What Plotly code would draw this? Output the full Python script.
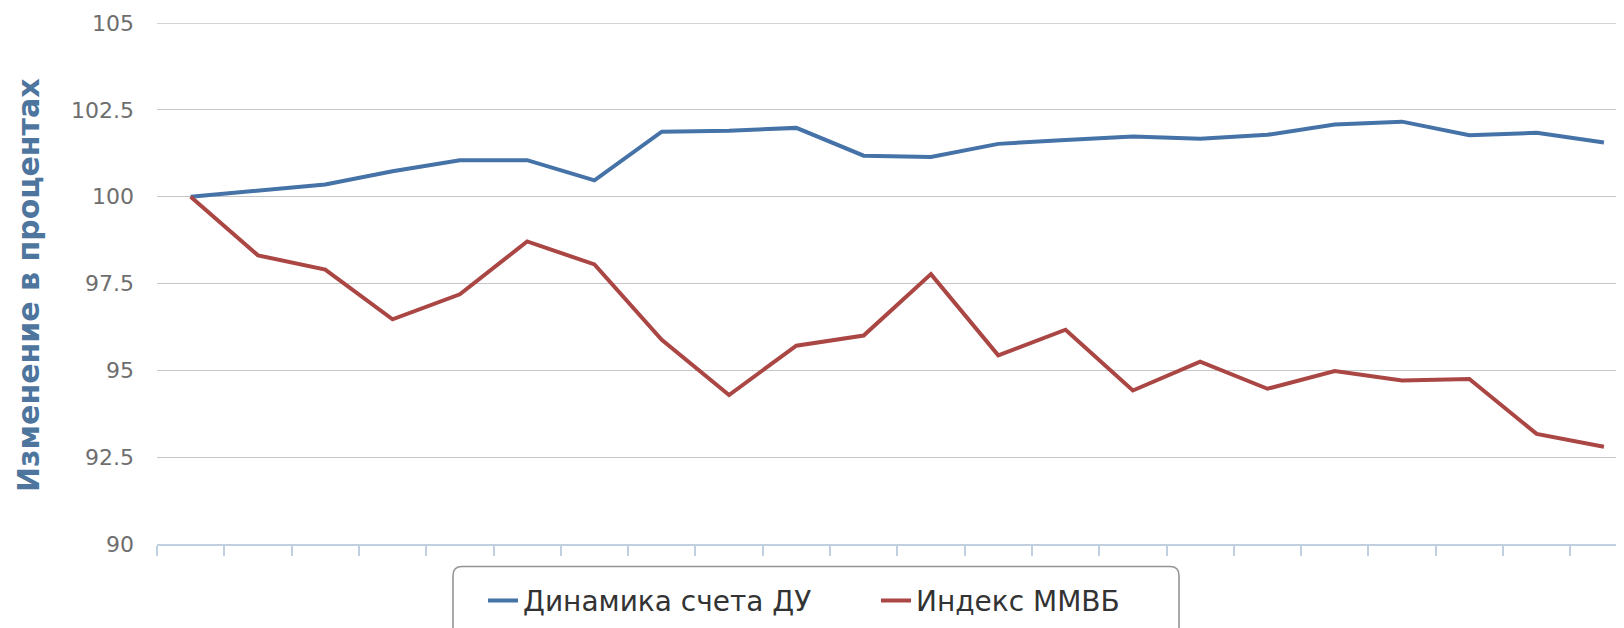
import plotly.graph_objects as go

# ---- data ----
periods = list(range(1, 23))  # 22 reporting periods (labels not shown on the chart)
du_account = [100.0, 100.18, 100.35, 100.73, 101.05, 101.05, 100.47, 101.87, 101.90, 101.98, 101.18,
              101.14, 101.52, 101.63, 101.73, 101.67, 101.78, 102.08, 102.16, 101.77, 101.84, 101.56]
micex_index = [100.0, 98.31, 97.90, 96.47, 97.19, 98.71, 98.05, 95.88, 94.29, 95.71, 96.00,
               97.77, 95.43, 96.17, 94.42, 95.25, 94.47, 94.98, 94.71, 94.75, 93.17, 92.80]
series_names = ["Динамика счета ДУ", "Индекс ММВБ"]
y_ticks = [90, 92.5, 95, 97.5, 100, 102.5, 105]
y_tick_text = ["90", "92.5", "95", "97.5", "100", "102.5", "105"]
y_title = "Изменение в процентах"

# the page body has an 8px margin, so the figure is placed at (8, 8) in the window
OFF = 8
W, H = 1624 - OFF, 628 - OFF
ML, MR, MT, MB = 157 - OFF, 0, 23 - OFF, 84
PW, PH = W - ML - MR, H - MT - MB

fig = go.Figure()
fig.add_trace(go.Scatter(x=periods, y=du_account, name=series_names[0], mode="lines",
                         line=dict(color="#4572A7", width=4)))
fig.add_trace(go.Scatter(x=periods, y=micex_index, name=series_names[1], mode="lines",
                         line=dict(color="#AA4643", width=4)))

boundaries = [p - 0.5 for p in periods] + [periods[-1] + 0.5]
x_range = [periods[0] - 0.5, periods[0] - 0.5 + PW / 67.3]

fig.update_xaxes(range=x_range,
                 tickvals=boundaries, showticklabels=False,
                 ticks="outside", ticklen=10, tickwidth=1.5, tickcolor="#C0D0E0",
                 showline=True, linecolor="#C0D0E0", linewidth=2,
                 showgrid=False, zeroline=False, fixedrange=True)
fig.update_yaxes(range=[y_ticks[0], y_ticks[-1]], tickvals=y_ticks, ticktext=y_tick_text,
                 showgrid=True, gridcolor="#C6C6C6", gridwidth=1.3,
                 zeroline=False, showline=False, ticks="",
                 ticklabelstandoff=22,
                 tickfont=dict(family="DejaVu Sans", size=22, color="#6E6E6E"),
                 fixedrange=True)

# top gridline (plotly omits the grid line lying on the upper range edge)
fig.add_shape(type="line", xref="paper", yref="y", x0=0, x1=1, y0=y_ticks[-1], y1=y_ticks[-1],
              line=dict(color="#C6C6C6", width=1.3), layer="below")


def px_x(px):  # window px -> paper
    return (px - OFF - ML) / PW


def px_y(py):
    return (MT + PH - (py - OFF)) / PH


# y-axis title as rotated text
fig.add_annotation(text=y_title, textangle=-90, xref="paper", yref="paper",
                   x=px_x(28), y=px_y(285), xanchor="center", yanchor="middle",
                   showarrow=False,
                   font=dict(family="DejaVu Sans", size=30, color="#4D759E", weight="bold"))

# rounded legend frame
L, R, T, B = 453, 1179, 566.5, 670
r = 9
path = (f"M {px_x(L + r)} {px_y(T)} L {px_x(R - r)} {px_y(T)} "
        f"Q {px_x(R)} {px_y(T)} {px_x(R)} {px_y(T + r)} "
        f"L {px_x(R)} {px_y(B)} L {px_x(L)} {px_y(B)} "
        f"L {px_x(L)} {px_y(T + r)} Q {px_x(L)} {px_y(T)} {px_x(L + r)} {px_y(T)} Z")
fig.add_shape(type="path", path=path, xref="paper", yref="paper",
              line=dict(color="#959595", width=1.6), fillcolor="rgba(0,0,0,0)", layer="above")

fig.update_layout(
    width=W, height=H,
    margin=dict(l=ML, r=MR, t=MT, b=MB, autoexpand=False),
    paper_bgcolor="white", plot_bgcolor="white",
    showlegend=True,
    legend=dict(orientation="h", xref="container", yref="container",
                x=475 / W, xanchor="left", y=1 - 592.7 / H, yanchor="middle",
                entrywidth=348, entrywidthmode="pixels",
                font=dict(family="DejaVu Sans", size=28, color="#333333"),
                bgcolor="rgba(0,0,0,0)", borderwidth=0),
    hovermode=False,
)

fig.write_html("out.html")
